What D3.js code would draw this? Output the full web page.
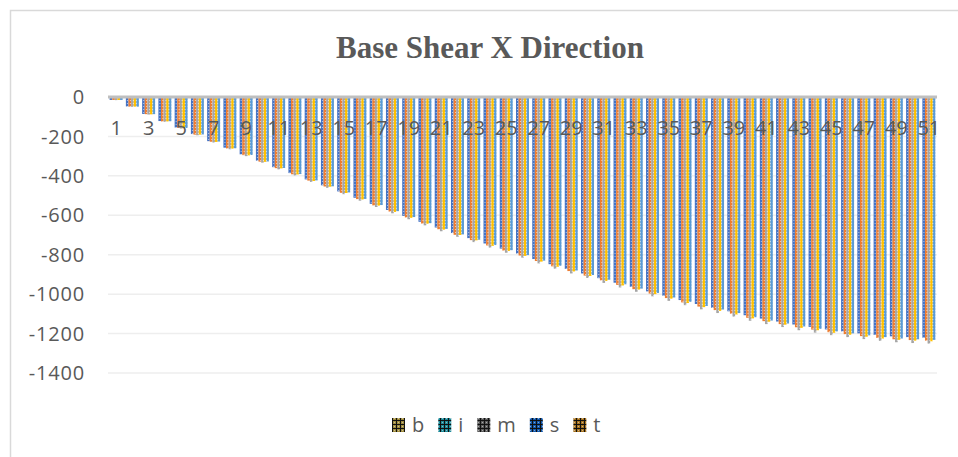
<!DOCTYPE html>
<html>
<head>
<meta charset="utf-8">
<script src="https://cdn.jsdelivr.net/npm/d3@7"></script>
<style>
  html, body { margin: 0; padding: 0; background: #fff; }
  svg { display: block; }
</style>
</head>
<body>
<div id="chart"></div>
<script>
// Base shear, X direction: 51 load steps, 5 series

const categories = d3.range(1, 52).map(String);
const seriesNames = ["b", "i", "m", "s", "t"];

const bValues = [-15,-48,-86,-122,-155,-188,-224,-257,-291,-323,-356,-386,-418,-448,-479,-511,-542,-573,-603,-633,-662,-690,-716,-743,-769,-794,-822,-848,-872,-895,-919,-942,-963,-986,-1008,-1030,-1050,-1069,-1087,-1107,-1124,-1139,-1154,-1166,-1179,-1189,-1199,-1207,-1214,-1218,-1221];
const iValues = [-15,-49,-87,-124,-157,-191,-227,-261,-295,-328,-361,-392,-424,-454,-486,-518,-550,-581,-611,-642,-671,-699,-726,-753,-779,-804,-832,-859,-883,-906,-930,-953,-975,-997,-1020,-1042,-1063,-1081,-1099,-1120,-1137,-1152,-1168,-1180,-1193,-1203,-1213,-1222,-1229,-1233,-1236];
const mValues = [-16,-50,-89,-126,-160,-194,-231,-265,-300,-333,-367,-398,-431,-461,-493,-526,-558,-590,-620,-651,-681,-709,-736,-764,-790,-815,-844,-871,-895,-918,-943,-966,-988,-1011,-1034,-1056,-1077,-1096,-1114,-1135,-1152,-1167,-1183,-1195,-1208,-1218,-1228,-1237,-1244,-1248,-1251];
const sValues = [-15,-49,-88,-124,-158,-191,-228,-262,-296,-329,-362,-393,-426,-455,-487,-520,-551,-583,-613,-643,-673,-700,-727,-755,-781,-806,-835,-861,-885,-908,-933,-956,-977,-1000,-1023,-1045,-1066,-1085,-1103,-1123,-1140,-1155,-1171,-1183,-1196,-1206,-1216,-1225,-1232,-1236,-1239];
const tValues = [-15,-49,-87,-123,-157,-190,-226,-260,-294,-327,-360,-391,-423,-453,-484,-517,-548,-579,-609,-640,-669,-697,-724,-751,-777,-802,-830,-856,-880,-903,-927,-950,-972,-994,-1017,-1039,-1060,-1078,-1096,-1117,-1134,-1149,-1164,-1176,-1189,-1199,-1209,-1218,-1225,-1229,-1232];

const yTicks = [0, -200, -400, -600, -800, -1000, -1200, -1400];

const allValues = [bValues, iValues, mValues, sValues, tValues];

// bar colours and legend swatch colours
const barColors = ["#4472C4", "#ED7D31", "#A5A5A5", "#FFC000", "#5B9BD5"];
const legendColors = ["#a08c3c", "#1d8c9b", "#5c5c5c", "#1158ad", "#a7731f"];

const width = 958;
const height = 457;
const margin = { left: 108, right: 21, top: 97, bottom: 84 };
const textColor = "#595959";
const font = "'Open Sans', 'Noto Sans', sans-serif";

const svg = d3.select("#chart")
  .append("svg")
  .attr("width", width)
  .attr("height", height);

const defs = svg.append("defs");

// dotted-grid pattern for the bars
barColors.forEach((c, k) => {
  const p = defs.append("pattern")
    .attr("id", "bar" + k)
    .attr("patternUnits", "userSpaceOnUse")
    .attr("width", 3).attr("height", 3);
  p.append("rect").attr("width", 3).attr("height", 3).attr("fill", c);
  p.append("rect").attr("x", 1).attr("y", 1).attr("width", 1).attr("height", 1)
    .attr("fill", "#fff").attr("opacity", 0.6);
});

// grid pattern for the legend swatches
legendColors.forEach((c, k) => {
  const p = defs.append("pattern")
    .attr("id", "leg" + k)
    .attr("patternUnits", "userSpaceOnUse")
    .attr("width", 4).attr("height", 4);
  p.append("rect").attr("width", 4).attr("height", 4).attr("fill", c);
  p.append("rect").attr("width", 4).attr("height", 1).attr("fill", "#111");
  p.append("rect").attr("width", 1).attr("height", 4).attr("fill", "#111");
  p.append("rect").attr("x", 2).attr("y", 2).attr("width", 1).attr("height", 1)
    .attr("fill", "#ddd").attr("opacity", 0.6);
});

// chart frame
svg.append("rect")
  .attr("x", 10.5).attr("y", 10.5)
  .attr("width", width + 20).attr("height", height + 20)
  .attr("fill", "none")
  .attr("stroke", "#d9d9d9")
  .attr("stroke-width", 1.5);

const x0 = d3.scaleBand()
  .domain(categories)
  .range([margin.left, width - margin.right])
  .paddingInner(0.2)
  .paddingOuter(0.1);

const x1 = d3.scaleBand()
  .domain(seriesNames)
  .range([0, x0.bandwidth()]);

const y = d3.scaleLinear()
  .domain([0, -1400])
  .range([margin.top, height - margin.bottom]);

// gridlines
svg.append("g")
  .selectAll("line")
  .data(yTicks.filter(d => d !== 0))
  .enter()
  .append("line")
  .attr("x1", margin.left)
  .attr("x2", width - margin.right)
  .attr("y1", d => y(d))
  .attr("y2", d => y(d))
  .attr("stroke", "#eeeeee")
  .attr("stroke-width", 1.5);

// y tick labels
svg.append("g")
  .selectAll("text")
  .data(yTicks)
  .enter()
  .append("text")
  .attr("x", 85)
  .attr("y", d => y(d))
  .attr("dy", "0.36em")
  .attr("text-anchor", "end")
  .attr("fill", textColor)
  .style("font-family", font)
  .style("font-size", "20px")
  .style("letter-spacing", "0.8px")
  .text(d => d);

// bars
const groups = svg.append("g")
  .selectAll("g")
  .data(categories)
  .enter()
  .append("g")
  .attr("transform", d => `translate(${x0(d)},0)`);

groups.selectAll("rect")
  .data((c, ci) => seriesNames.map((s, k) => ({ k, s, v: allValues[k][ci] })))
  .enter()
  .append("rect")
  .attr("x", d => x1(d.s))
  .attr("y", y(0))
  .attr("width", x1.bandwidth())
  .attr("height", d => y(d.v) - y(0))
  .attr("fill", d => `url(#bar${d.k})`);

// zero axis line
svg.append("line")
  .attr("x1", margin.left)
  .attr("x2", width - margin.right)
  .attr("y1", y(0))
  .attr("y2", y(0))
  .attr("stroke", "#bfbfbf")
  .attr("stroke-width", 3);

// category labels (every other one fits)
svg.append("g")
  .selectAll("text")
  .data(categories.filter((d, i) => i % 2 === 0))
  .enter()
  .append("text")
  .attr("x", d => x0(d) + x0.bandwidth() / 2)
  .attr("y", 135)
  .attr("text-anchor", "middle")
  .attr("fill", textColor)
  .style("font-family", font)
  .style("font-size", "20px")
  .text(d => d);

// title
svg.append("text")
  .attr("x", 490)
  .attr("y", 58)
  .attr("text-anchor", "middle")
  .attr("fill", textColor)
  .style("font-family", "'Liberation Serif', 'Times New Roman', serif")
  .style("font-weight", "bold")
  .style("font-size", "31px")
  .text("Base Shear X Direction");

// legend
const legend = svg.append("g");
let lx = 392;
seriesNames.forEach((s, k) => {
  legend.append("rect")
    .attr("x", lx).attr("y", 418)
    .attr("width", 13).attr("height", 14)
    .attr("fill", `url(#leg${k})`);
  const t = legend.append("text")
    .attr("x", lx + 20)
    .attr("y", 425)
    .attr("dy", "0.36em")
    .attr("fill", textColor)
    .style("font-family", font)
    .style("font-size", "20px")
    .text(s);
  lx += 20 + t.node().getComputedTextLength() + 14;
});
</script>
</body>
</html>
